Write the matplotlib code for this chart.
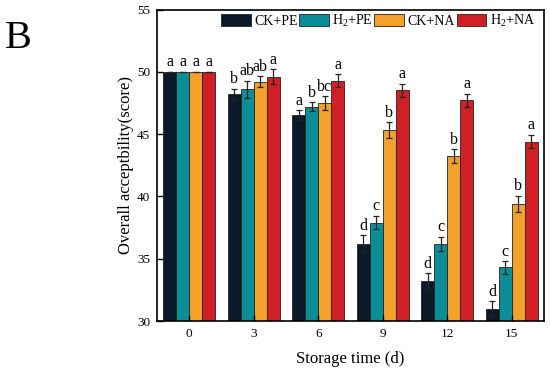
import numpy as np
from matplotlib import pyplot as plt

plt.rcParams['font.family'] = ['Liberation Serif', 'DejaVu Serif']
plt.rcParams['mathtext.fontset'] = 'custom'
plt.rcParams['mathtext.rm'] = 'Liberation Serif'

days = ["0", "3", "6", "9", "12", "15"]
labels = ["CK+PE", "H$_2$+PE", "CK+NA", "H$_2$+NA"]
colors = ["#0a1a28", "#0b8e98", "#f2a22a", "#d11f26"]

ck_pe = [50.0, 48.2, 46.5, 36.2, 33.2, 31.0]
h2_pe = [50.0, 48.6, 47.2, 37.9, 36.2, 34.3]
ck_na = [50.0, 49.2, 47.5, 45.3, 43.25, 39.4]
h2_na = [50.0, 49.6, 49.3, 48.5, 47.7, 44.4]

ck_pe_err = [0, 0.45, 0.4, 0.7, 0.65, 0.6]
h2_pe_err = [0, 0.7, 0.35, 0.55, 0.55, 0.5]
ck_na_err = [0, 0.45, 0.55, 0.65, 0.55, 0.65]
h2_na_err = [0, 0.6, 0.5, 0.55, 0.55, 0.55]

ck_pe_sig = ["a", "b", "a", "d", "d", "d"]
h2_pe_sig = ["a", "ab", "b", "c", "c", "c"]
ck_na_sig = ["a", "ab", "bc", "b", "b", "b"]
h2_na_sig = ["a", "a", "a", "a", "a", "a"]

series = [ck_pe, h2_pe, ck_na, h2_na]
errors = [ck_pe_err, h2_pe_err, ck_na_err, h2_na_err]
sigs = [ck_pe_sig, h2_pe_sig, ck_na_sig, h2_na_sig]

fig = plt.figure(figsize=(5.5, 3.73), dpi=100)
ax = fig.add_axes([0.2855, 0.1394, 0.7035, 0.8351])

x = np.arange(len(days))
w = 0.2
for i in range(4):
    pos = x + (i - 1.5) * w
    ax.bar(pos, series[i], w, bottom=0, color=colors[i], edgecolor="#222222",
           linewidth=0.6, label=labels[i],
           yerr=errors[i], capsize=2.5, error_kw=dict(elinewidth=0.9, capthick=0.9, ecolor="#222222"))
    for p, v, e, s in zip(pos, series[i], errors[i], sigs[i]):
        ax.text(p, v + e + 0.12, s, ha="center", va="bottom", fontsize=11.5)

ax.set_xlim(-0.5, 5.5)
ax.set_ylim(30, 55)
ax.set_xticks(x)
ax.set_xticklabels(days)
ax.set_yticks([30, 35, 40, 45, 50, 55])
ax.tick_params(direction="in", labelsize=9.5, length=4, width=1, pad=5)
for s in ax.spines.values():
    s.set_linewidth(1.2)

ax.set_xlabel("Storage time (d)", fontsize=12, labelpad=8)
ax.set_ylabel("Overall acceptbility(score)", fontsize=12, labelpad=2)

ax.legend(loc="upper right", ncol=4, frameon=False, fontsize=10,
          handlelength=2.15, handleheight=1.0, handletextpad=0.25, columnspacing=0.1,
          borderaxespad=0.1, bbox_to_anchor=(0.995, 1.012))

fig.text(0.008, 0.87, "B", fontsize=29)

plt.savefig("out.png", dpi=100)
